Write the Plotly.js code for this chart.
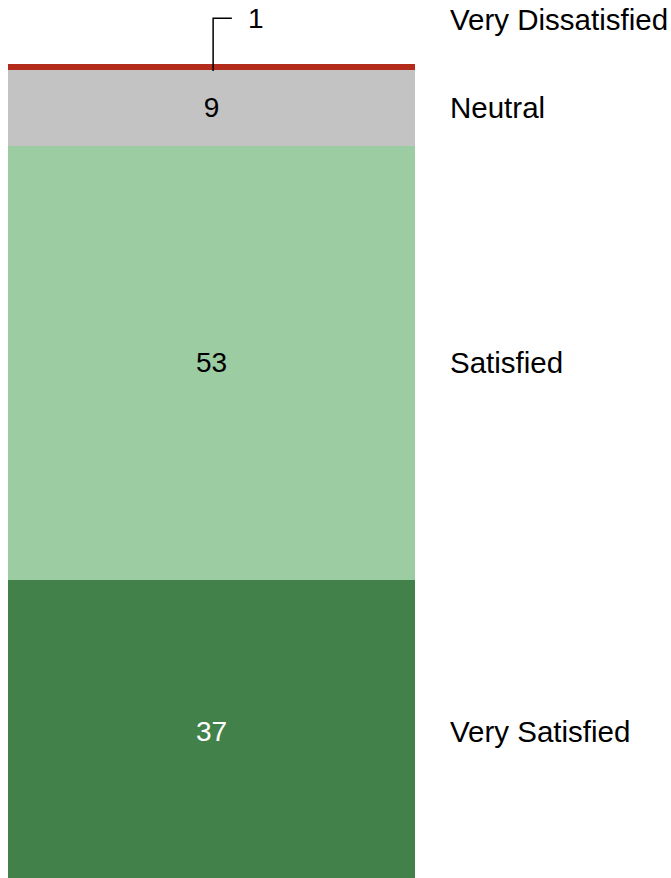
<!DOCTYPE html>
<html>
<head>
<meta charset="utf-8">
<script src="https://cdn.plot.ly/plotly-3.0.1.min.js"></script>
<style>html,body{margin:0;padding:0;background:#fff;}#chart{width:671px;height:878px;}</style>
</head>
<body>
<div id="chart"></div>
<script>
// Data (bottom to top of the stacked column)
const categories = ["Very Satisfied", "Satisfied", "Neutral", "Very Dissatisfied"];
const values = [37, 53, 9.3, 0.7];          // segment heights as drawn
const valueLabels = ["37", "53", "9", "1"]; // printed labels
const colors = ["#42824a", "#9ccca1", "#c3c3c3", "#b22b1b"];
const textColors = ["#ffffff", "#000000", "#000000", "#000000"];

const FONT = "Liberation Sans, Arial, sans-serif";
const FS = 28;
const FS_CAT = 29.5;
const yMin = 0.6, yMax = 100;
const toPaper = v => (v - yMin) / (yMax - yMin);

const traces = categories.map((c, i) => ({
  type: "bar",
  name: c,
  x: [0],
  y: [values[i]],
  width: [1],
  marker: { color: colors[i], line: { width: 0 } },
  text: [i === 3 ? "" : valueLabels[i]],
  textposition: "inside",
  insidetextanchor: "middle",
  textangle: 0,
  insidetextfont: { family: FONT, size: FS, color: textColors[i] },
  hoverinfo: "skip"
}));

// cumulative bases
const bases = [];
let acc = 0;
values.forEach(v => { bases.push(acc); acc += v; });
const total = acc;

const annotations = [];
// category labels on the right
categories.forEach((c, i) => {
  let yc = bases[i] + values[i] / 2;
  let yp = toPaper(yc);
  if (i === 3) yp = toPaper(total + 5.4);
  annotations.push({
    xref: "paper", yref: "paper", x: 1.08, y: yp,
    xanchor: "left", yanchor: "middle", showarrow: false,
    text: c, font: { family: FONT, size: FS_CAT, color: "#000" }
  });
});
// value label for the thin top segment
const leaderTop = toPaper(total + 5.6);
annotations.push({
  xref: "paper", yref: "paper", x: 0.609, y: leaderTop,
  xanchor: "center", yanchor: "middle", showarrow: false,
  text: valueLabels[3], font: { family: FONT, size: FS, color: "#000" }
});

const shapes = [{
  type: "path", xref: "paper", yref: "paper",
  path: `M 0.504 ${toPaper(bases[3] - 0.15)} L 0.504 ${leaderTop} L 0.55 ${leaderTop}`,
  line: { color: "#000", width: 1.5 }
}];

const layout = {
  width: 671, height: 878,
  margin: { l: 8, r: 256, t: 64, b: 0, pad: 0 },
  barmode: "stack",
  bargap: 0,
  showlegend: false,
  paper_bgcolor: "#fff", plot_bgcolor: "#fff",
  xaxis: { range: [-0.5, 0.5], visible: false, fixedrange: true },
  yaxis: { range: [yMin, yMax], visible: false, fixedrange: true },
  annotations: annotations,
  shapes: shapes,
  font: { family: FONT, size: FS }
};

Plotly.newPlot("chart", traces, layout, { displayModeBar: false, staticPlot: true });
</script>
</body>
</html>
